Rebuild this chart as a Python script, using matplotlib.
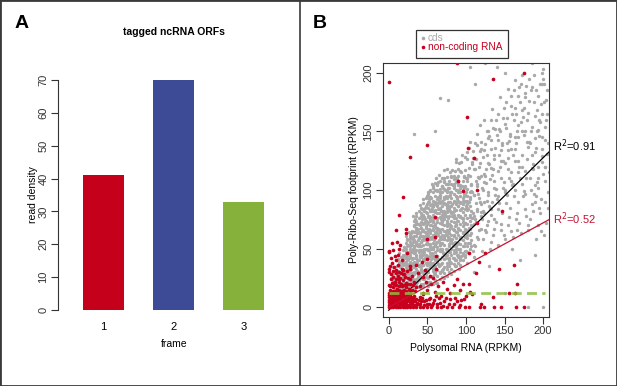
import matplotlib
matplotlib.use("Agg")
import matplotlib.pyplot as plt
from matplotlib.lines import Line2D
from matplotlib.patches import Rectangle

plt.rcParams['font.family'] = ['Liberation Sans', 'DejaVu Sans']

# === panel A data ===
frames = ['1', '2', '3']
read_density = [41, 70, 33]
bar_colors = ['#C4001A', '#3D4A96', '#86B23C']

# === panel B data (Polysomal RNA, Ribo footprint) ===
cds_points = [
    (4,18),(6,23),(8,16),(5,28),(9,31),(7,20),(3,25),(9,26),(6,34),(8,19),
    (11,16),(12,23),(13,28),(14,19),(15,34),(16,25),(17,38),(18,21),(19,30),(11,35),
    (12,41),(14,46),(16,17),(18,45),(19,36),(13,24),(15,29),(17,15),(11,27),(19,26),
    (12,31),(14,37),(16,43),(18,49),(19,18),(15,21),(17,32),(13,39),(19,41),(10,21),
    (21,14),(22,20),(23,27),(24,33),(25,41),(26,46),(27,52),(28,58),(29,63),(21,45),
    (22,38),(23,50),(24,22),(25,17),(26,29),(27,35),(28,24),(29,42),(30,48),(21,31),
    (22,55),(23,61),(24,44),(25,53),(26,37),(27,19),(28,31),(29,27),(30,36),(21,25),
    (22,28),(23,42),(24,58),(25,30),(26,64),(27,43),(28,47),(29,54),(30,22),(20,51),
    (22,47),(24,36),(26,23),(28,39),(30,60),(23,34),(25,47),(27,60),(29,33),(21,39),
    (31,15),(37,22),(33,29),(39,36),(35,43),(32,50),(38,57),(34,64),(36,71),(31,78),
    (36,45),(33,52),(39,59),(35,66),(32,24),(37,31),(34,38),(40,45),(38,52),(31,38),
    (37,63),(33,70),(38,27),(35,19),(39,35),(31,42),(34,49),(36,56),(40,63),(32,58),
    (35,33),(37,40),(31,47),(39,54),(33,61),(36,68),(34,75),(40,30),(32,37),(38,26),
    (35,53),(31,60),(38,67),(33,30),(36,42),(39,49),(32,56),(37,63),(40,44),(34,47),
    (38,71),(31,34),(36,74),(33,36),(35,68),(39,23),(32,28),(37,38),(40,27),(36,80),
    (41,17),(46,24),(43,31),(49,38),(45,45),(42,52),(48,59),(44,66),(47,73),(50,80),
    (41,87),(46,50),(43,57),(49,64),(45,71),(42,78),(47,85),(44,92),(48,29),(50,36),
    (41,43),(47,58),(43,65),(48,72),(45,79),(42,26),(49,33),(44,40),(46,47),(50,54),
    (41,61),(48,68),(43,75),(46,82),(45,20),(42,35),(47,42),(44,49),(49,56),(50,63),
    (41,70),(46,77),(43,84),(48,28),(45,36),(42,43),(49,50),(44,57),(47,64),(50,71),
    (41,52),(46,40),(43,47),(48,54),(45,61),(42,68),(47,75),(44,30),(49,88),(50,44),
    (42,33),(44,46),(46,60),(48,74),(50,95),
    (51,18),(56,26),(53,34),(59,42),(55,50),(52,58),(58,66),(54,74),(57,82),(60,90),
    (51,98),(56,46),(53,54),(59,62),(55,70),(52,78),(58,86),(54,94),(57,102),(60,30),
    (51,38),(57,58),(53,66),(58,74),(55,82),(52,90),(59,29),(54,37),(56,45),(60,53),
    (51,61),(58,69),(53,77),(56,85),(55,93),(52,22),(57,45),(54,53),(59,61),(60,69),
    (51,77),(56,88),(53,93),(58,33),(55,41),(52,49),(59,57),(54,65),(57,73),(60,81),
    (51,49),(56,37),(53,44),(58,51),(55,60),(52,67),(57,76),(54,83),(59,35),(60,42),
    (52,92),(54,100),(56,105),(58,27),(60,62),
    (61,21),(66,30),(63,39),(69,48),(65,57),(62,66),(68,75),(64,84),(67,93),(70,102),
    (61,110),(66,53),(63,62),(69,71),(65,80),(62,89),(67,98),(64,107),(68,37),(70,46),
    (61,55),(67,64),(63,73),(68,82),(65,91),(62,100),(69,32),(64,41),(66,50),(70,59),
    (61,68),(68,77),(63,86),(66,95),(65,35),(62,44),(67,53),(64,62),(69,74),(70,80),
    (61,89),(66,98),(63,49),(68,58),(65,67),(62,76),(67,85),(64,94),(69,103),(70,33),
    (61,44),(62,41),(64,37),(66,55),(68,72),(70,89),(63,105),(65,113),(67,64),(69,82),
    (71,25),(76,35),(73,45),(79,55),(75,65),(72,75),(78,85),(74,95),(77,105),(80,115),
    (71,60),(76,70),(73,80),(79,90),(75,100),(72,110),(78,40),(74,50),(77,60),(80,70),
    (71,80),(77,90),(73,100),(78,38),(75,48),(72,58),(79,68),(74,78),(76,88),(80,98),
    (71,108),(78,52),(73,62),(76,72),(75,82),(72,92),(77,102),(74,42),(79,47),(80,57),
    (71,45),(72,78),(73,88),(74,105),(75,118),(76,66),(77,76),(78,86),(79,96),(80,39),
    (72,117),(74,64),(76,85),(78,63),(80,82),
    (81,28),(86,40),(83,52),(89,64),(85,76),(82,88),(88,100),(84,112),(87,124),(90,45),
    (81,57),(86,69),(83,81),(89,93),(85,105),(82,117),(87,50),(84,62),(88,74),(90,86),
    (81,98),(87,110),(83,42),(88,54),(85,66),(82,78),(89,90),(84,102),(86,56),(90,68),
    (81,80),(88,92),(83,104),(86,116),(85,46),(82,58),(87,70),(84,82),(89,94),(90,106),
    (81,112),(82,55),(83,67),(84,79),(85,91),(86,35),(87,126),(88,45),(89,109),(90,118),
    (91,33),(96,46),(93,59),(99,72),(95,85),(92,98),(98,111),(94,124),(97,52),(100,65),
    (91,78),(96,91),(93,104),(99,117),(95,130),(92,58),(98,71),(94,84),(97,97),(100,110),
    (91,123),(97,64),(93,77),(98,90),(95,103),(92,116),(99,45),(94,60),(96,73),(100,86),
    (91,99),(98,112),(93,50),(96,63),(95,76),(92,89),(97,102),(94,115),(99,128),(100,48),
    (92,40),(94,44),(96,75),(98,95),(100,98),
    (101,38),(106,52),(103,66),(109,80),(105,94),(102,108),(108,122),(104,136),(107,57),(110,71),
    (101,85),(106,99),(103,113),(109,127),(105,141),(102,62),(108,76),(104,90),(107,104),(110,118),
    (101,132),(107,70),(103,84),(108,98),(105,112),(102,126),(109,48),(104,68),(106,82),(110,96),
    (101,110),(108,124),(103,55),(106,63),(105,77),(102,91),(107,105),(104,119),(109,133),(110,53),
    (111,43),(116,58),(113,73),(119,88),(115,103),(112,118),(118,133),(114,148),(117,66),(120,81),
    (111,96),(116,111),(113,126),(119,141),(115,60),(112,75),(118,90),(114,105),(117,120),(120,135),
    (111,78),(117,93),(113,108),(118,123),(115,138),(112,52),(119,67),(114,82),(116,97),(120,112),
    (111,127),(113,89),(115,84),(117,110),(119,78),
    (121,48),(126,64),(123,80),(129,96),(125,112),(122,128),(128,144),(124,160),(127,70),(130,86),
    (121,102),(126,118),(123,134),(129,150),(125,66),(122,82),(128,98),(124,114),(127,130),(130,146),
    (121,75),(127,91),(123,107),(128,123),(125,139),(122,58),(129,74),(124,90),(126,106),(130,122),
    (131,50),(136,67),(133,84),(139,101),(135,118),(132,135),(138,152),(134,169),(137,75),(140,92),
    (131,109),(136,126),(133,143),(139,160),(135,62),(132,79),(138,96),(134,113),(137,130),(140,147),
    (131,85),(137,102),(133,119),(138,136),(135,153),(132,56),(139,73),(134,90),
    (141,53),(146,71),(143,89),(149,107),(145,125),(142,143),(148,161),(144,179),(147,80),(150,98),
    (141,116),(146,134),(143,152),(149,170),(145,66),(142,84),(148,102),(144,120),(147,138),(150,156),
    (141,95),(143,130),(145,110),(147,140),(149,62),
    (151,58),(156,77),(153,96),(159,115),(155,134),(152,153),(158,172),(154,186),(157,85),(160,104),
    (151,123),(156,142),(153,161),(159,180),(155,70),(152,89),(158,108),(154,127),(157,146),(160,165),
    (151,100),(153,140),(155,118),(157,148),(159,65),
    (161,60),(166,80),(163,100),(169,120),(165,140),(162,160),(168,180),(164,194),(167,90),(170,110),
    (161,130),(166,150),(163,170),(169,188),(165,75),(162,95),(168,115),(164,135),(167,155),(170,175),
    (161,105),(163,125),(165,165),(167,145),(169,72),
    (171,63),(176,84),(173,105),(179,126),(175,147),(172,168),(178,189),(174,95),(177,116),(180,137),
    (171,158),(176,179),(173,198),(178,78),(175,99),(172,120),(179,141),(174,162),(177,183),(180,70),
    (172,130),(176,150),
    (181,66),(186,88),(183,110),(189,132),(185,154),(182,176),(188,198),(184,100),(187,122),(190,144),
    (181,166),(186,188),(183,75),(188,97),(185,119),(182,141),(189,163),(184,185),(187,82),(190,104),
    (183,140),(187,118),
    (191,58),(196,80),(193,102),(199,124),(195,146),(192,168),(198,190),(194,70),(197,92),(200,114),
    (191,136),(196,158),(193,180),(199,200),(195,85),(192,107),(198,129),(194,151),(197,173),(200,195),
    (191,95),(193,120),(195,160),(197,65),(199,135),
    (201,62),(206,85),(203,108),(205,131),(202,154),(204,177),(201,190),(206,98),(203,120),(204,72),
    (202,143),(205,165),
    (112,140),(118,155),(122,100),(127,150),(132,160),(136,108),(141,165),(144,150),(148,125),
    (152,175),(156,110),(158,135),(162,185),(164,145),(168,125),(171,190),(173,150),(175,170),
    (178,110),(179,160),(182,195),(184,150),(186,130),(188,175),(191,185),(192,150),(194,110),
    (196,190),(198,165),(199,145),(201,175),(202,120),(204,160),(205,185),(206,140),(203,90),
    (207,115),(189,90),(177,97),(166,66),
    (33,148),(67,178),(77,177),(60,150),(105,205),(112,190),(125,208),(140,205),(150,200),(185,208),
    (200,203),(150,12),(181,0),(200,0),(110,30),(130,35),(170,40),(190,45),(160,50),
]

# dense core of the cds cloud: (polysomal RNA, footprint values at that RNA level)
cds_core = [
    (9, [17, 22]),
    (12, [15, 20, 26, 31]),
    (15, [14, 20, 24, 29, 35]),
    (18, [16, 21, 27, 33, 38, 44]),
    (21, [14, 19, 26, 31, 37, 44, 49]),
    (24, [17, 22, 28, 35, 40, 46, 52, 57]),
    (27, [15, 20, 27, 32, 38, 45, 50, 56, 62]),
    (30, [18, 23, 29, 36, 41, 47, 53, 60, 65]),
    (33, [16, 21, 28, 34, 39, 46, 51, 57, 64, 69, 74]),
    (36, [19, 24, 30, 37, 42, 49, 54, 61, 66, 72, 78]),
    (39, [17, 23, 28, 35, 40, 47, 52, 59, 64, 71, 76, 82]),
    (42, [20, 25, 32, 37, 44, 49, 56, 61, 68, 73, 80, 85]),
    (45, [18, 24, 29, 36, 41, 48, 53, 60, 65, 72, 77, 84, 89]),
    (48, [21, 26, 33, 38, 45, 50, 57, 62, 69, 74, 81, 86, 93]),
    (51, [19, 25, 30, 37, 42, 49, 54, 61, 66, 73, 78, 85, 90, 97]),
    (54, [22, 27, 34, 39, 46, 51, 58, 63, 70, 75, 82, 87, 94, 99]),
    (57, [20, 26, 31, 38, 43, 50, 55, 62, 67, 74, 79, 86, 91, 98, 103]),
    (60, [23, 28, 35, 40, 47, 52, 59, 64, 71, 76, 83, 88, 95, 100, 106]),
    (63, [21, 27, 32, 39, 44, 51, 56, 63, 68, 75, 80, 87, 92, 99, 104]),
    (66, [24, 29, 36, 41, 48, 53, 60, 65, 72, 77, 84, 89, 96, 101, 108]),
    (69, [26, 31, 38, 43, 50, 55, 62, 67, 74, 79, 86, 91, 98, 103, 110]),
    (72, [29, 34, 41, 46, 53, 58, 65, 70, 77, 82, 89, 94, 101, 107]),
    (75, [27, 33, 38, 45, 50, 57, 62, 69, 74, 81, 86, 93, 98, 105, 111]),
    (78, [30, 35, 42, 47, 54, 59, 66, 71, 78, 83, 90, 95, 102, 108]),
    (81, [33, 38, 45, 50, 57, 62, 69, 74, 81, 86, 93, 98, 105, 111]),
    (84, [31, 37, 42, 49, 54, 61, 66, 73, 78, 85, 90, 97, 103, 109]),
    (87, [35, 40, 47, 52, 59, 64, 71, 76, 83, 88, 95, 100, 107]),
    (90, [38, 43, 50, 55, 62, 67, 74, 79, 86, 91, 98, 104, 112]),
    (93, [36, 42, 47, 54, 59, 66, 71, 78, 83, 90, 95, 102]),
    (96, [40, 45, 52, 57, 64, 69, 76, 81, 88, 93, 100, 108]),
    (99, [43, 48, 55, 60, 67, 72, 79, 84, 91, 96, 103]),
    (102, [47, 52, 59, 64, 71, 76, 83, 88, 95, 101]),
    (105, [50, 55, 62, 67, 74, 79, 86, 92, 98]),
]

ncrna_points = [
    (0,0),(3,0),(6,0),(9,0),(12,0),(15,0),(18,0),(21,0),(24,0),(27,0),(31,0),(35,0),(40,0),
    (44,0),(49,0),(55,0),(62,0),(68,0),(75,0),(82,0),(91,0),(99,0),
    (1,2),(4,2.5),(7,2),(10,2.5),(13,2),(16,2.5),(19,2),(22,2.5),(25,2),(29,3),(33,2),(38,3),
    (46,2),(52,3),
    (0,4.5),(3,4),(6,4.5),(9,4),(12,4.5),(15,4),(18,4.5),(21,4),(24,5),(28,4.5),(32,5),(37,4),
    (42,5),(58,4),
    (1,6.5),(4,6),(7,6.5),(10,6),(13,6.5),(16,6),(19,6.5),(22,6),(26,7),(30,6.5),(35,7),(48,6),
    (0,8.5),(3,8),(6,8.5),(9,8),(12,8.5),(15,8),(18,8.5),(21,8),(24,9),(29,8.5),(40,9),(65,8),
    (1,10.5),(4,10),(7,10.5),(10,10),(13,10.5),(16,10),(19,10.5),(22,10),(25,11),(33,10),(44,11),
    (0,12.5),(3,12),(6,12.5),(9,12),(12,12.5),(15,12),(18,12.5),(21,12),(27,13),
    (27,2),(30,4),(26,9),(28,11),(31,8),(34,5),(36,2),(39,6),(41,3),(43,8),(46,5),(50,3),
    (52,7),(56,2),(59,6),(61,10),(66,4),(70,1),(74,8),(79,7),(84,3),(88,5),(93,2),(97,7),
    (2,15),(5,17),(8,14),(11,16),(14,15),(17,18),(20,15),(23,17),(26,16),(30,15),(35,17),
    (1,19),(4,21),(7,20),(10,19),(13,22),(16,20),(19,23),(22,21),(28,20),(33,22),
    (3,24),(6,26),(9,24),(12,27),(15,25),(18,28),(21,26),(25,25),(30,27),
    (1,30),(5,31),(9,29),(14,30),(19,32),(24,31),(28,33),(38,29),(44,26),
    (2,35),(7,34),(12,36),(17,33),
    (2,18),(5,14),(8,22),(11,13),(14,24),(17,14),(20,19),(23,14),(3,28),(6,21),(10,32),
    (13,18),(16,29),(20,28),(24,20),(27,24),(31,19),(4,38),(8,44),(12,45),(6,49),(3,42),
    (34,14),(40,18),(45,12),(50,15),(55,20),(60,13),(64,18),(70,22),(75,16),(80,12),(85,19),
    (88,24),(92,15),(96,20),(48,22),(58,25),(68,10),(72,5),(78,3),(86,8),(94,6),(100,10),
    (53,8),(63,3),
    (0,192),(89,208),(175,200),(135,195),(102,162),(49,138),(28,128),(103,136),(110,127),
    (90,108),(96,99),(115,100),(147,82),(114,72),(60,77),(60,60),(50,58),(61,44),(43,39),
    (18,94),(13,79),(0,47),(10,66),(22,67),(22,63),(11,56),(4,55),(15,53),(14,50),(0,48),
    (24,46),(9,40),(17,40),(1,33),(28,35),(36,36),(47,32),(61,33),(54,27),(50,41),(104,46),
    (125,46),(117,39),(143,33),(162,36),(113,29),(166,20),(104,20),(105,13),(108,11),(164,12),
    (156,12),(135,9),(120,3),(123,0),(104,0),(118,0),(136,0),(145,0),(165,0),(175,0),
]

cds_fit = (0.65, -2.5)      # slope, intercept
ncrna_fit = (0.36, 0.0)
noise_level = 12
r2_cds = 'R$^2$=0.91'
r2_ncrna = 'R$^2$=0.52'

gray = '#A9A9A9'
red = '#C8001E'

W, H = 617, 386
fig = plt.figure(figsize=(W / 100, H / 100), dpi=100)


def px_box(l, t, r, b):
    return [l / W, 1 - b / H, (r - l) / W, (b - t) / H]


# === panel A ===
axA = fig.add_axes(px_box(58, 80, 290, 310))
axA.bar([1, 2, 3], read_density, width=0.586, color=bar_colors)
axA.set_xlim(0.35, 3.66)
axA.set_ylim(0, 70)
for s in ['top', 'right', 'bottom']:
    axA.spines[s].set_visible(False)
axA.spines['left'].set_color('#333333')
axA.set_yticks(range(0, 71, 10))
axA.tick_params(axis='y', direction='out', length=5, labelsize=8, labelrotation=90,
                colors='#333333', pad=2)
for lab in axA.get_yticklabels():
    lab.set_va('center')
axA.set_xticks([1, 2, 3], frames)
axA.tick_params(axis='x', length=0, labelsize=8, pad=9)
axA.set_xlabel('frame', fontsize=7.5, labelpad=5)
axA.set_ylabel('read density', fontsize=7.5, labelpad=0)
fig.text(174 / W, 1 - 32 / H, 'tagged ncRNA ORFs', ha='center', va='center',
         fontsize=7.5, fontweight='bold')
fig.text(22 / W, 1 - 24 / H, 'A', ha='center', va='center', fontsize=14, fontweight='bold')

# === panel B ===
axB = fig.add_axes(px_box(382.5, 63.3, 549.3, 316.7))
cx = [p[0] for p in cds_points] + [x for x, ys in cds_core for _ in ys]
cy = [p[1] for p in cds_points] + [y for _, ys in cds_core for y in ys]
nx_ = [p[0] for p in ncrna_points]
ny_ = [p[1] for p in ncrna_points]

axB.scatter(cx, cy, s=6, color=gray, linewidths=0, zorder=2)
xs = [0, 208]
axB.plot(xs, [cds_fit[0] * x + cds_fit[1] for x in xs], color='black', lw=0.9, zorder=3)
axB.scatter(nx_, ny_, s=7, color=red, linewidths=0, zorder=4)
axB.plot(xs, [ncrna_fit[0] * x + ncrna_fit[1] for x in xs], color='#C8102E', lw=0.9, zorder=5)
axB.plot([0, 203], [noise_level, noise_level], color='#8CBF3F', lw=2, alpha=0.85,
         dashes=(3.6, 1.9), zorder=6)

axB.set_xlim(-8, 208)
axB.set_ylim(-8, 208)
axB.set_xticks(range(0, 201, 50))
axB.set_yticks(range(0, 201, 50))
for s in axB.spines.values():
    s.set_color('#333333')
axB.tick_params(direction='out', length=5, labelsize=8, colors='#333333', pad=1.5)
axB.tick_params(axis='y', labelrotation=90)
for lab in axB.get_yticklabels():
    lab.set_va('center')
axB.set_xlabel('Polysomal RNA (RPKM)', fontsize=7.5, labelpad=5)
axB.set_ylabel('Poly-Ribo-Seq footprint (RPKM)', fontsize=7.5, labelpad=3)

fig.text(553 / W, 1 - 146 / H, r2_cds, ha='left', va='center', fontsize=8, color='black')
fig.text(553 / W, 1 - 219 / H, r2_ncrna, ha='left', va='center', fontsize=8, color='#C8102E')
fig.text(320 / W, 1 - 24 / H, 'B', ha='center', va='center', fontsize=14, fontweight='bold')

# legend box
fig.add_artist(Rectangle((416 / W, 1 - 58 / H), 92 / W, 28 / H, transform=fig.transFigure,
                         fill=False, edgecolor='#333333', lw=0.9))
fig.add_artist(Line2D([423 / W], [1 - 38 / H], marker='o', markersize=2.6, color=gray,
                      markeredgewidth=0, transform=fig.transFigure))
fig.add_artist(Line2D([423 / W], [1 - 47 / H], marker='o', markersize=2.6, color=red,
                      markeredgewidth=0, transform=fig.transFigure))
fig.text(428 / W, 1 - 38 / H, 'cds', ha='left', va='center', fontsize=7.3, color=gray)
fig.text(428 / W, 1 - 47 / H, 'non-coding RNA', ha='left', va='center', fontsize=7.3, color=red)

# panel frames
fig.add_artist(Rectangle((0, 0), 1, 1, transform=fig.transFigure, fill=False,
                         edgecolor='#3a3a3a', lw=2))
fig.add_artist(Line2D([300 / W, 300 / W], [0, 1], transform=fig.transFigure,
                      color='#3a3a3a', lw=1.2))

fig.savefig('out.png', dpi=100)
